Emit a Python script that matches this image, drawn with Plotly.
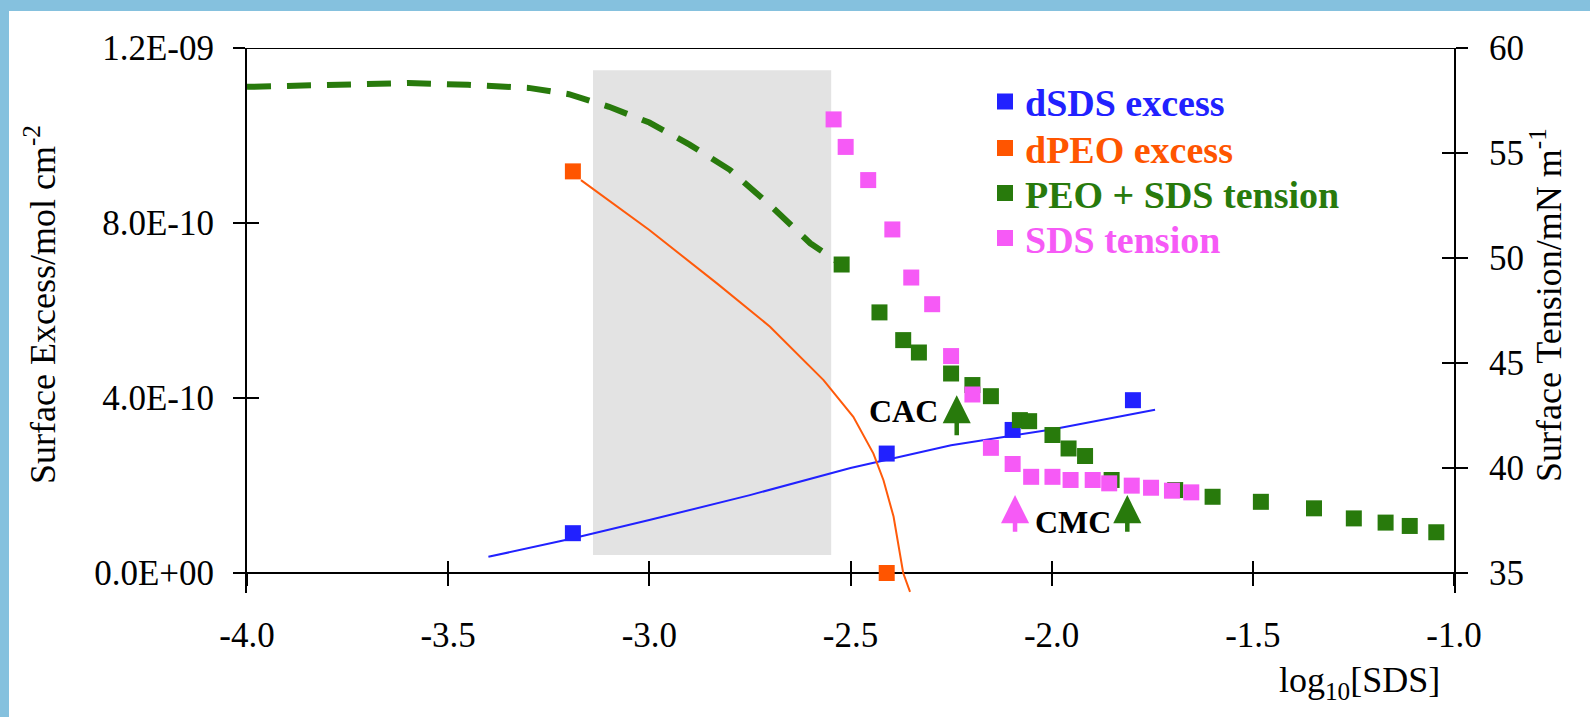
import plotly.graph_objects as go

# ---------------- data ----------------
x_ticks = [-4.0, -3.5, -3.0, -2.5, -2.0, -1.5, -1.0]
x_ticktext = ["-4.0", "-3.5", "-3.0", "-2.5", "-2.0", "-1.5", "-1.0"]
excess_ticks = [0.0, 4.0e-10, 8.0e-10, 1.2e-9]
excess_ticktext = ["0.0E+00", "4.0E-10", "8.0E-10", "1.2E-09"]
tension_ticks = [35, 40, 45, 50, 55, 60]

# dSDS surface excess (points + fitted curve)
dsds_x = [-3.19, -2.41, -2.097, -1.798]
dsds_y = [0.91e-10, 2.73e-10, 3.27e-10, 3.95e-10]
dsds_fit_x = [-3.40, -3.2, -3.0, -2.75, -2.5, -2.25, -2.0, -1.743]
dsds_fit_y = [0.37e-10, 0.77e-10, 1.21e-10, 1.78e-10, 2.40e-10, 2.92e-10, 3.28e-10, 3.73e-10]

# dPEO surface excess (points + fitted curve)
dpeo_x = [-3.19, -2.41]
dpeo_y = [9.18e-10, 0.0]
dpeo_fit_x = [-3.17, -3.0, -2.832, -2.70, -2.567, -2.493, -2.443, -2.418, -2.393, -2.369, -2.352]
dpeo_fit_y = [8.98e-10, 7.84e-10, 6.62e-10, 5.63e-10, 4.41e-10, 3.57e-10, 2.73e-10, 2.12e-10,
              1.29e-10, 0.0, -0.43e-10]

# PEO + SDS surface tension (points + dashed low-concentration curve)
peo_sds_x = [-2.522, -2.428, -2.369, -2.330, -2.250, -2.197, -2.151, -2.079, -2.056, -1.998,
             -1.958, -1.917, -1.851, -1.693, -1.600, -1.480, -1.348, -1.249, -1.170, -1.110, -1.044]
peo_sds_t = [49.69, 47.41, 46.09, 45.50, 44.50, 43.95, 43.42, 42.28, 42.23, 41.57,
             40.93, 40.57, 39.43, 38.95, 38.63, 38.39, 38.08, 37.60, 37.40, 37.24, 36.94]
peo_dash_x = [-4.0, -3.75, -3.6, -3.45, -3.3, -3.2, -3.1, -3.0, -2.9, -2.8, -2.7, -2.6, -2.522]
peo_dash_t = [58.15, 58.25, 58.33, 58.25, 58.10, 57.80, 57.20, 56.45, 55.40, 54.20, 52.52, 50.70, 49.69]

# SDS surface tension
sds_x = [-2.542, -2.512, -2.456, -2.396, -2.349, -2.297, -2.250, -2.197, -2.151, -2.097,
         -2.051, -1.998, -1.953, -1.898, -1.857, -1.801, -1.753, -1.701, -1.653]
sds_t = [56.60, 55.29, 53.71, 51.36, 49.07, 47.80, 45.33, 43.50, 40.96, 40.19,
         39.58, 39.58, 39.43, 39.43, 39.27, 39.16, 39.06, 38.92, 38.84]

# shaded region (log10[SDS] range, surface-excess range)
shade_x = [-3.14, -2.548]
shade_y = [0.41e-10, 11.49e-10]

# arrows: (x, tip tension, base tension, colour key)
arrow_x = [-2.236, -2.091, -1.812]
arrow_tip = [43.47, 38.71, 38.71]
arrow_base = [41.49, 36.89, 36.89]
arrow_col = ["green", "pink", "green"]
label_text = ["CAC", "CMC"]
label_x = [-2.369, -1.948]
label_t = [42.71, 37.44]

# ---------------- style ----------------
BLUE = "#2121FF"
ORANGE = "#FF5500"
ORANGE_LINE = "#FF5A0A"
GREEN = "#287A0C"
PINK = "#F65AF6"
FRAME = "#85C1DE"
COLS = {"green": GREEN, "pink": PINK}
FONT = "Liberation Serif, Times New Roman, serif"

# pixel geometry of the page
W, H = 1590, 717
PL, PR, PT = 247, 1454, 48
AXIS_Y = 573
EXT = 20  # px the plot area extends below the x axis
PB = AXIS_Y + EXT
plot_w = PR - PL
plot_h = PB - PT
frac_ext = EXT / (AXIS_Y - PT)
y_range = [-1.2e-9 * frac_ext, 1.2e-9]
y2_range = [35 - 25 * frac_ext, 60]
xpos = EXT / plot_h


def px_x(p):
    return (p - PL) / plot_w


def px_y(p):
    return (PB - p) / plot_h


fig = go.Figure()

# fitted curves
fig.add_trace(go.Scatter(x=dsds_fit_x, y=dsds_fit_y, mode="lines", line=dict(color=BLUE, width=2),
                         showlegend=False, hoverinfo="skip"))
fig.add_trace(go.Scatter(x=dpeo_fit_x, y=dpeo_fit_y, mode="lines", line=dict(color=ORANGE_LINE, width=2),
                         showlegend=False, hoverinfo="skip"))
fig.add_trace(go.Scatter(x=peo_dash_x, y=peo_dash_t, mode="lines", yaxis="y2",
                         line=dict(color=GREEN, width=6, dash="24px,16px"),
                         showlegend=False, hoverinfo="skip"))

# points (one legend box per row so the rows can be spaced like the reference)
fig.add_trace(go.Scatter(x=dsds_x, y=dsds_y, mode="markers", legend="legend",
                         marker=dict(symbol="square", size=16, color=BLUE),
                         name=f'<span style="color:{BLUE}"><b>dSDS excess</b></span>'))
fig.add_trace(go.Scatter(x=dpeo_x, y=dpeo_y, mode="markers", legend="legend2",
                         marker=dict(symbol="square", size=16, color=ORANGE),
                         name=f'<span style="color:{ORANGE}"><b>dPEO excess</b></span>'))
fig.add_trace(go.Scatter(x=peo_sds_x, y=peo_sds_t, mode="markers", yaxis="y2", legend="legend3",
                         marker=dict(symbol="square", size=16, color=GREEN),
                         name=f'<span style="color:{GREEN}"><b>PEO + SDS tension</b></span>'))
fig.add_trace(go.Scatter(x=sds_x, y=sds_t, mode="markers", yaxis="y2", legend="legend4",
                         marker=dict(symbol="square", size=16, color=PINK),
                         name=f'<span style="color:{PINK}"><b>SDS tension</b></span>'))

# dummy traces that create the overlay axes used for the inner half of the crossing ticks
fig.add_trace(go.Scatter(x=[None], y=[None], xaxis="x2", yaxis="y3", showlegend=False, hoverinfo="skip"))
fig.add_trace(go.Scatter(x=[None], y=[None], yaxis="y4", showlegend=False, hoverinfo="skip"))

tick_font = dict(family=FONT, size=35, color="black")
common = dict(showgrid=False, zeroline=False, tickwidth=2, ticklen=12, tickcolor="black",
              layer="below traces")

LEG_X = 985
LEG_ROWS = [101.7, 148.3, 193.3, 238.3]


def legend_box(row_y):
    return dict(x=px_x(LEG_X), y=px_y(row_y), xanchor="left", yanchor="middle",
                bgcolor="rgba(0,0,0,0)", borderwidth=0,
                font=dict(family=FONT, size=38), itemsizing="trace")


fig.update_layout(
    width=W, height=H,
    margin=dict(l=PL, r=W - PR, t=PT, b=H - PB, pad=0),
    paper_bgcolor=FRAME,
    plot_bgcolor="white",
    font=dict(family=FONT, size=35, color="black"),
    showlegend=True,
    legend=legend_box(LEG_ROWS[0]),
    legend2=legend_box(LEG_ROWS[1]),
    legend3=legend_box(LEG_ROWS[2]),
    legend4=legend_box(LEG_ROWS[3]),
    xaxis=dict(range=[-4, -1], tickvals=x_ticks, ticktext=x_ticktext, anchor="free", position=xpos,
               showline=True, linecolor="black", linewidth=2, ticks="outside",
               tickfont=tick_font, ticklabelstandoff=19, **common),
    xaxis2=dict(range=[-4, -1], tickvals=x_ticks, overlaying="x", anchor="free", position=xpos,
                showline=False, ticks="inside", showticklabels=False, **common),
    yaxis=dict(range=y_range, tickvals=excess_ticks, ticktext=excess_ticktext, anchor="x", side="left",
               showline=True, linecolor="black", linewidth=2, ticks="outside",
               tickfont=tick_font, ticklabelstandoff=12, **common),
    yaxis2=dict(range=y2_range, tickvals=tension_ticks, overlaying="y", anchor="x", side="right",
                showline=True, linecolor="black", linewidth=2, ticks="outside",
                tickfont=tick_font, ticklabelstandoff=14, **common),
    yaxis3=dict(range=y_range, tickvals=excess_ticks, overlaying="y", anchor="x2", side="left",
                showline=False, ticks="inside", showticklabels=False, **common),
    yaxis4=dict(range=y2_range, tickvals=tension_ticks, overlaying="y", anchor="x", side="right",
                showline=False, ticks="inside", showticklabels=False, **common),
)

# white page with the blue frame strip on top and left
fig.add_shape(type="rect", xref="paper", yref="paper", layer="below",
              x0=px_x(9), x1=px_x(W + 10), y0=px_y(H + 10), y1=px_y(11),
              fillcolor="white", line=dict(width=0))
# shaded concentration band
fig.add_shape(type="rect", xref="x", yref="y", layer="below",
              x0=shade_x[0], x1=shade_x[1], y0=shade_y[0], y1=shade_y[1],
              fillcolor="#E3E3E3", line=dict(width=0))
# top frame line
fig.add_shape(type="line", xref="x", yref="y", x0=-4, x1=-1, y0=1.2e-9, y1=1.2e-9,
              line=dict(color="black", width=2))

# arrows
for ax_, tip, base, c in zip(arrow_x, arrow_tip, arrow_base, arrow_col):
    fig.add_annotation(x=ax_, y=tip, xref="x", yref="y2", ax=ax_, ay=base, axref="x", ayref="y2",
                       text="", showarrow=True, arrowhead=2, arrowsize=1.25, arrowwidth=4.5,
                       arrowcolor=COLS[c], standoff=0, startstandoff=0)
for t, lx, lt in zip(label_text, label_x, label_t):
    fig.add_annotation(x=lx, y=lt, xref="x", yref="y2", text=f"<b>{t}</b>", showarrow=False,
                       xanchor="center", yanchor="middle",
                       font=dict(family=FONT, size=32, color="black"))

# axis titles
fig.add_annotation(x=px_x(40), y=px_y(305), xref="paper", yref="paper", textangle=-90,
                   xanchor="center", yanchor="middle",
                   text="Surface Excess/mol cm<sup>-2</sup>", showarrow=False,
                   font=dict(family=FONT, size=36, color="black"))
fig.add_annotation(x=px_x(1546), y=px_y(305), xref="paper", yref="paper", textangle=-90,
                   xanchor="center", yanchor="middle",
                   text="Surface Tension/mN m<sup>-1</sup>", showarrow=False,
                   font=dict(family=FONT, size=36, color="black"))
fig.add_annotation(x=px_x(1359), y=px_y(682), xref="paper", yref="paper",
                   xanchor="center", yanchor="middle",
                   text="log<sub>10</sub>[SDS]", showarrow=False,
                   font=dict(family=FONT, size=36, color="black"))

fig.write_html("out.html")
